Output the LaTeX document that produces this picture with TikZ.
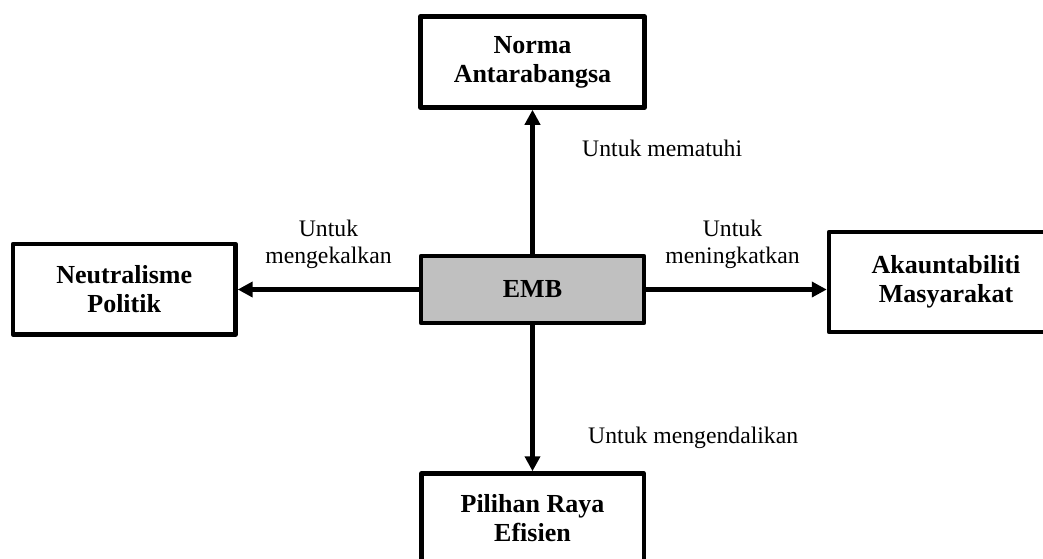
\documentclass[tikz,border=0pt]{standalone}
\usepackage{fontspec}
\setmainfont{Liberation Serif}
\usetikzlibrary{arrows.meta}
\definecolor{embgray}{HTML}{C0C0C0}
\begin{document}
\begin{tikzpicture}[x=1pt,y=-1pt,
  box/.style={draw, line width=4.5pt, line join=round, inner sep=0pt, align=center,
    font=\fontsize{26}{29}\selectfont\bfseries},
  lab/.style={inner sep=0pt, font=\fontsize{23.7}{27}\selectfont},
  arr/.style={line width=4.2pt, -{Triangle[length=15pt,width=15pt]}}]
\useasboundingbox (0,0) rectangle (1043,558);
\node[box, minimum width=224pt, minimum height=91pt] (top) at (532.5,62) {Norma\\Antarabangsa};
\node[box, fill=embgray, minimum width=223pt, minimum height=67pt] (emb) at (532.5,289.5) {EMB};
\node[box, minimum width=222.5pt, minimum height=90.5pt] (left) at (124.2,289.2) {Neutralisme\\Politik};
\node[box, minimum width=234pt, minimum height=100pt] (right) at (946,282) {Akauntabiliti\\Masyarakat};
\node[box, minimum width=222.5pt, minimum height=90pt] (bottom) at (532.5,518.5) {Pilihan Raya\\Efisien};
\draw[arr] (emb.north) -- (top.south);
\draw[arr] (emb.west) -- (emb.west -| left.east);
\draw[arr] (emb.east) -- (emb.east -| right.west);
\draw[arr] (emb.south) -- (bottom.north);
\node[lab, anchor=base west] (l1) at (582,156) {Untuk mematuhi};
\node[lab, anchor=base west] (l4) at (588,443) {Untuk mengendalikan};
\node[lab, align=center] (l2) at (328.5,244) {Untuk\\mengekalkan};
\node[lab, align=center] (l3) at (732.5,244) {Untuk\\meningkatkan};
\end{tikzpicture}
\end{document}
